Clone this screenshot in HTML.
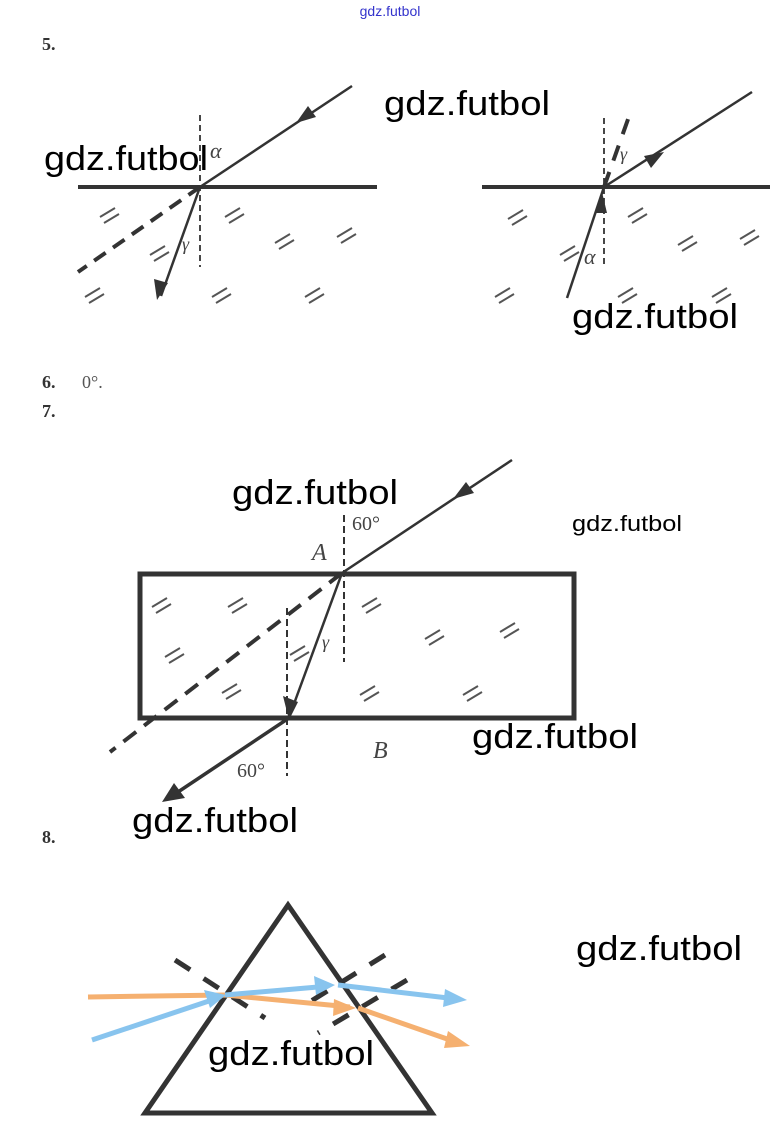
<!DOCTYPE html>
<html><head><meta charset="utf-8"><style>
html,body{margin:0;padding:0;background:#fff;}
svg{display:block;}
.wm{font-family:"Liberation Sans",sans-serif;fill:#000;}
.num{font-family:"Liberation Serif",serif;font-size:18px;font-weight:bold;fill:#333;}
.lab{font-family:"Liberation Serif",serif;font-style:italic;fill:#444;}
</style></head><body>
<svg width="778" height="1133" viewBox="0 0 778 1133" xmlns="http://www.w3.org/2000/svg">
<defs>
<g id="h" stroke="#555" stroke-width="2" fill="none">
<line x1="0" y1="5" x2="15" y2="-4"/><line x1="4" y1="11" x2="19" y2="2"/>
</g>
</defs>
<text x="390" y="16" text-anchor="middle" font-family="Liberation Sans,sans-serif" font-size="14" fill="#3333cc">gdz.futbol</text>
<text class="num" x="42" y="50">5.</text>
<text class="num" x="42" y="388">6.</text>
<text x="82" y="388" font-family="Liberation Serif,serif" font-size="18" fill="#555">0°.</text>
<text class="num" x="42" y="417">7.</text>
<text class="num" x="42" y="843">8.</text>

<!-- fig5 left -->
<g stroke="#333" fill="none">
<line x1="78" y1="187" x2="377" y2="187" stroke-width="4"/>
<line x1="200" y1="115" x2="200" y2="267" stroke-width="1.8" stroke-dasharray="6,4"/>
<line x1="352" y1="86" x2="200" y2="187" stroke-width="2.5"/>
<line x1="200" y1="187" x2="78" y2="272" stroke-width="4" stroke-dasharray="14,9"/>
<line x1="200" y1="187" x2="161" y2="296" stroke-width="2.5"/>
</g>
<path d="M296,123 L316,117 L308,106 z" fill="#333"/>
<path d="M157,300 L154,279 L168,283 z" fill="#333"/>
<text class="lab" x="210" y="158" font-size="22">α</text>
<text class="lab" x="182" y="250" font-size="18">γ</text>
<!-- fig5 right -->
<g stroke="#333" fill="none">
<line x1="482" y1="187" x2="770" y2="187" stroke-width="4"/>
<line x1="604" y1="118" x2="604" y2="267" stroke-width="1.8" stroke-dasharray="6,4"/>
<line x1="604" y1="187" x2="752" y2="92" stroke-width="2.5"/>
<line x1="604" y1="187" x2="632" y2="108" stroke-width="4" stroke-dasharray="16,12"/>
<line x1="567" y1="298" x2="604" y2="187" stroke-width="2.5"/>
</g>
<path d="M664,152 L651,168 L644,156 z" fill="#333"/>
<path d="M602,192 L595,213 L607,213 z" fill="#333"/>
<text class="lab" x="620" y="160" font-size="18">γ</text>
<text class="lab" x="584" y="264" font-size="22">α</text>
<use href="#h" x="100" y="212"/><use href="#h" x="225" y="212"/><use href="#h" x="275" y="238"/><use href="#h" x="337" y="232"/>
<use href="#h" x="150" y="250"/><use href="#h" x="85" y="292"/><use href="#h" x="212" y="292"/><use href="#h" x="305" y="292"/>
<use href="#h" x="508" y="214"/><use href="#h" x="628" y="212"/><use href="#h" x="678" y="240"/><use href="#h" x="740" y="234"/>
<use href="#h" x="560" y="250"/><use href="#h" x="495" y="292"/><use href="#h" x="618" y="292"/><use href="#h" x="712" y="292"/>

<!-- fig7 -->
<g stroke="#333" fill="none">
<rect x="140" y="574" width="434" height="144" stroke-width="5"/>
<line x1="512" y1="460" x2="342" y2="573" stroke-width="2.5"/>
<line x1="344" y1="515" x2="344" y2="662" stroke-width="2" stroke-dasharray="7,4"/>
<line x1="287" y1="608" x2="287" y2="776" stroke-width="2" stroke-dasharray="7,4"/>
<line x1="342" y1="573" x2="110" y2="752" stroke-width="4" stroke-dasharray="16,10"/>
<line x1="342" y1="573" x2="291" y2="712" stroke-width="2.5"/>
<line x1="289" y1="718" x2="175" y2="794" stroke-width="3.5"/>
</g>
<path d="M453,499 L474,493 L466,482 z" fill="#333"/>
<path d="M289,720 L283,696 L298,702 z" fill="#333"/>
<path d="M162,802 L174,783 L185,798 z" fill="#333"/>
<text x="352" y="530" font-family="Liberation Serif,serif" font-size="20" fill="#444">60°</text>
<text class="lab" x="312" y="560" font-size="24">A</text>
<text class="lab" x="322" y="648" font-size="18">γ</text>
<text class="lab" x="373" y="758" font-size="24">B</text>
<text x="237" y="777" font-family="Liberation Serif,serif" font-size="20" fill="#444">60°</text>
<use href="#h" x="152" y="602"/><use href="#h" x="228" y="602"/><use href="#h" x="362" y="602"/><use href="#h" x="425" y="634"/>
<use href="#h" x="500" y="627"/><use href="#h" x="165" y="652"/><use href="#h" x="290" y="650"/><use href="#h" x="222" y="688"/>
<use href="#h" x="360" y="690"/><use href="#h" x="463" y="690"/>

<!-- fig8 -->
<polygon points="288,905 145,1113 432,1113" fill="none" stroke="#333" stroke-width="5"/>
<g stroke="#333" stroke-width="5" fill="none" stroke-dasharray="18,16">
<line x1="175" y1="960" x2="265" y2="1018"/>
<line x1="385" y1="955" x2="300" y2="1008"/>
<line x1="407" y1="980" x2="318" y2="1033"/>
</g>
<g stroke-width="5" fill="none">
<polyline points="88,997 225,995 350,1007" stroke="#f5b070"/>
<line x1="358" y1="1008" x2="450" y2="1040" stroke="#f5b070"/>
<line x1="92" y1="1040" x2="212" y2="1000" stroke="#88c4ee"/>
<polyline points="225,995 318,987" stroke="#88c4ee"/>
<line x1="338" y1="985" x2="448" y2="998" stroke="#88c4ee"/>
</g>
<path d="M356,1008 L334,999 L333,1016 z" fill="#f5b070"/>
<path d="M470,1046 L448,1031 L444,1048 z" fill="#f5b070"/>
<path d="M226,995 L204,990 L210,1008 z" fill="#88c4ee"/>
<path d="M335,985 L314,976 L316,995 z" fill="#88c4ee"/>
<path d="M467,1000 L445,989 L443,1007 z" fill="#88c4ee"/>

<!-- watermarks -->
<text class="wm" font-size="34" x="384" y="115" textLength="166" lengthAdjust="spacingAndGlyphs">gdz.futbol</text>
<text class="wm" font-size="34" x="44" y="170" textLength="164" lengthAdjust="spacingAndGlyphs">gdz.futbol</text>
<text class="wm" font-size="34" x="572" y="328" textLength="166" lengthAdjust="spacingAndGlyphs">gdz.futbol</text>
<text class="wm" font-size="34" x="232" y="504" textLength="166" lengthAdjust="spacingAndGlyphs">gdz.futbol</text>
<text class="wm" font-size="22" x="572" y="531" textLength="110" lengthAdjust="spacingAndGlyphs">gdz.futbol</text>
<text class="wm" font-size="34" x="472" y="748" textLength="166" lengthAdjust="spacingAndGlyphs">gdz.futbol</text>
<text class="wm" font-size="34" x="132" y="832" textLength="166" lengthAdjust="spacingAndGlyphs">gdz.futbol</text>
<text class="wm" font-size="34" x="576" y="960" textLength="166" lengthAdjust="spacingAndGlyphs">gdz.futbol</text>
<text class="wm" font-size="34" x="208" y="1065" textLength="166" lengthAdjust="spacingAndGlyphs">gdz.futbol</text>
</svg>
</body></html>
